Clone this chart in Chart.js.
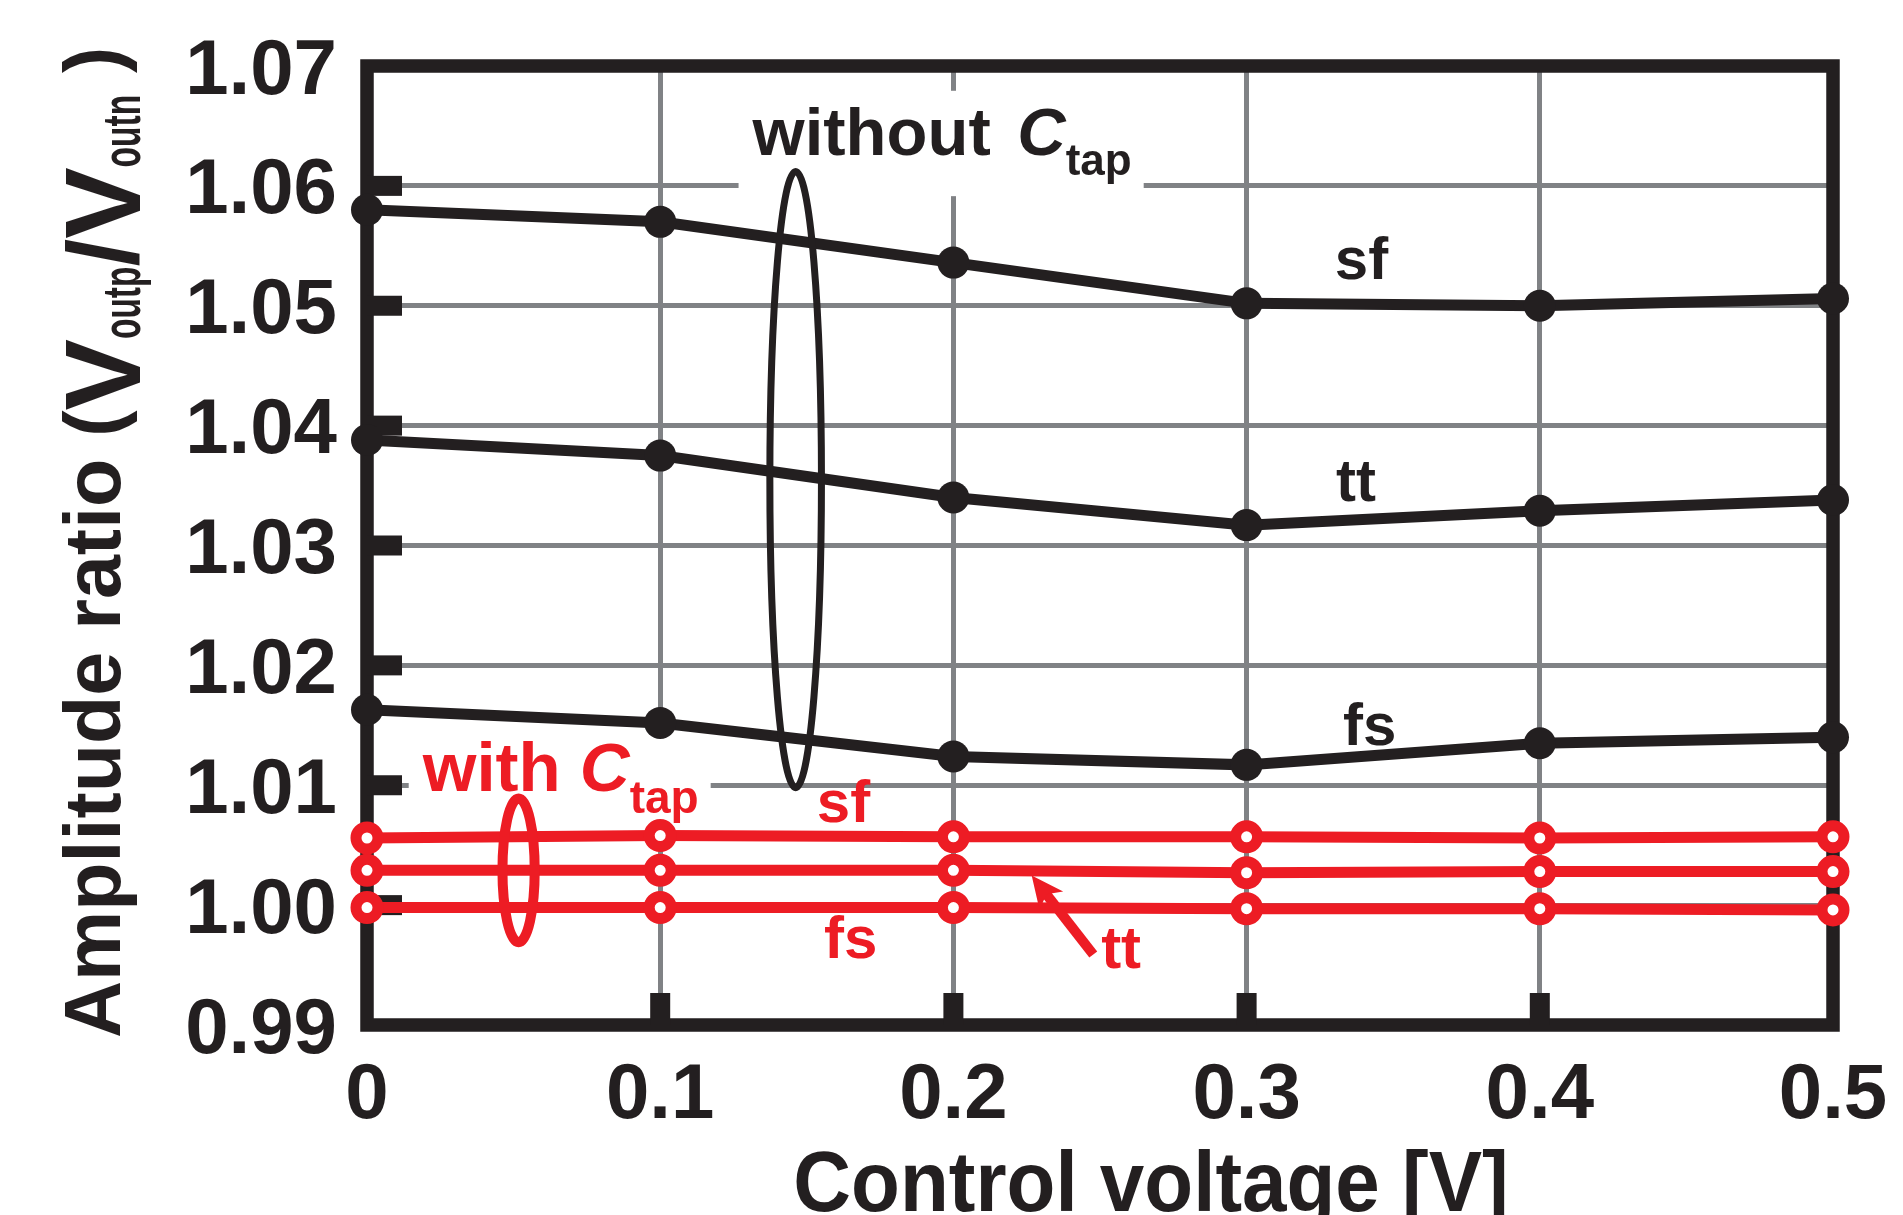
<!DOCTYPE html>
<html>
<head>
<meta charset="utf-8">
<script src="https://cdn.jsdelivr.net/npm/chart.js@4.4.1/dist/chart.umd.min.js"></script>
<style>
  html, body { margin: 0; padding: 0; background: #fff; }
  canvas { display: block; }
</style>
</head>
<body>
<canvas id="myChart" width="1903" height="1215"></canvas>
<script>
// amplitude ratio vs control voltage

const xValues = [0, 0.1, 0.2, 0.3, 0.4, 0.5]
const xTickLabels = ['0', '0.1', '0.2', '0.3', '0.4', '0.5']
const yTickLabels = ['0.99', '1.00', '1.01', '1.02', '1.03', '1.04', '1.05', '1.06', '1.07']

// without C_tap (black)
const withoutSF = [1.0580, 1.0570, 1.0536, 1.0502, 1.0500, 1.0506]
const withoutTT = [1.0388, 1.0375, 1.0340, 1.0317, 1.0329, 1.0338]
const withoutFS = [1.0163, 1.0152, 1.0124, 1.0117, 1.0135, 1.0140]

// with C_tap (red)
const withSF = [1.0056, 1.0058, 1.0057, 1.0057, 1.0056, 1.0057]
const withTT = [1.0029, 1.0029, 1.0029, 1.0027, 1.0028, 1.0028]
const withFS = [0.9998, 0.9998, 0.9998, 0.9997, 0.9997, 0.9996]

const BLACK = '#231f20'
const RED = '#ed1c24'
const GRID = '#808285'
const FONT = '"Liberation Sans", Arial, sans-serif'

const pts = (arr) => arr.map((v, i) => ({ x: xValues[i], y: v }))

const blackSet = (label, arr) => ({
    label,
    data: pts(arr),
    borderColor: BLACK,
    borderWidth: 11,
    pointRadius: 16,
    pointBackgroundColor: BLACK,
    pointBorderWidth: 0,
    tension: 0,
    clip: false,
})

const redSet = (label, arr) => ({
    label,
    data: pts(arr),
    borderColor: RED,
    borderWidth: 11,
    pointRadius: 11,
    pointBorderWidth: 11,
    pointBorderColor: RED,
    pointBackgroundColor: '#fff',
    tension: 0,
    clip: false,
})

// label with italic C and "tap" subscript, on a white box
function ctapLabel(ctx, x, y, word, size, color, gap) {
    const sub = Math.round(size * 0.66)
    ctx.font = `bold ${size}px ${FONT}`
    const w1 = ctx.measureText(word + ' ').width + gap
    ctx.font = `italic bold ${size}px ${FONT}`
    const w2 = ctx.measureText('C').width
    ctx.font = `bold ${sub}px ${FONT}`
    const w3 = ctx.measureText('tap').width
    const drop = size * 0.31
    ctx.fillStyle = '#fff'
    ctx.fillRect(x - 14, y - size * 0.76 - 13, w1 + w2 + w3 + 26, size * 0.76 + drop + sub * 0.22 + 24)
    ctx.fillStyle = color
    ctx.textAlign = 'left'
    ctx.textBaseline = 'alphabetic'
    ctx.font = `bold ${size}px ${FONT}`
    ctx.fillText(word, x, y)
    ctx.font = `italic bold ${size}px ${FONT}`
    ctx.fillText('C', x + w1, y)
    ctx.font = `bold ${sub}px ${FONT}`
    ctx.fillText('tap', x + w1 + w2, y + drop)
}

function tag(ctx, x, y, text, color) {
    ctx.font = `bold 60px ${FONT}`
    ctx.fillStyle = color
    ctx.textAlign = 'center'
    ctx.textBaseline = 'middle'
    ctx.fillText(text, x, y)
}

const decor = {
    id: 'decor',
    beforeDatasetsDraw(chart) {
        const { ctx, chartArea: a, scales: { x, y } } = chart
        ctx.save()
        ctapLabel(ctx, x.getPixelForValue(0.1315), y.getPixelForValue(1.0626), 'without', 67, BLACK, 8)
        ctapLabel(ctx, x.getPixelForValue(0.0190), y.getPixelForValue(1.0095), 'with', 69, RED, 0)

        tag(ctx, x.getPixelForValue(0.3392), y.getPixelForValue(1.0536), 'sf', BLACK)
        tag(ctx, x.getPixelForValue(0.3373), y.getPixelForValue(1.0351), 'tt', BLACK)
        tag(ctx, x.getPixelForValue(0.3420), y.getPixelForValue(1.0147), 'fs', BLACK)
        tag(ctx, x.getPixelForValue(0.1625), y.getPixelForValue(1.0083), 'sf', RED)
        tag(ctx, x.getPixelForValue(0.1650), y.getPixelForValue(0.9970), 'fs', RED)
        tag(ctx, x.getPixelForValue(0.2572), y.getPixelForValue(0.9961), 'tt', RED)

        // frame
        ctx.strokeStyle = BLACK
        ctx.lineWidth = 13.5
        ctx.strokeRect(a.left, a.top, a.right - a.left, a.bottom - a.top)

        // short heavy tick stubs inside the frame
        ctx.fillStyle = BLACK
        for (let i = 1; i < yTickLabels.length - 1; i++) {
            const py = y.getPixelForValue(parseFloat(yTickLabels[i]))
            ctx.fillRect(a.left, py - 10, 35, 20)
        }
        for (let i = 1; i < xValues.length - 1; i++) {
            const px = x.getPixelForValue(xValues[i])
            ctx.fillRect(px - 10, a.bottom - 32, 20, 32)
        }
        ctx.restore()
    },
    afterDatasetsDraw(chart) {
        const { ctx, scales: { x, y } } = chart
        ctx.save()
        // grouping ellipses
        ctx.lineWidth = 7
        ctx.strokeStyle = BLACK
        ctx.beginPath()
        const bx = x.getPixelForValue(0.1462), by = y.getPixelForValue(1.0355)
        ctx.ellipse(bx, by, x.getPixelForValue(0.1462 + 0.0088) - bx, by - y.getPixelForValue(1.0355 + 0.0257), 0, 0, Math.PI * 2)
        ctx.stroke()

        ctx.lineWidth = 10
        ctx.strokeStyle = RED
        ctx.beginPath()
        const rx = x.getPixelForValue(0.0517), ry = y.getPixelForValue(1.0029)
        ctx.ellipse(rx, ry, x.getPixelForValue(0.0517 + 0.0055) - rx, ry - y.getPixelForValue(1.0029 + 0.0060), 0, 0, Math.PI * 2)
        ctx.stroke()

        // arrow to the red tt line
        const tx = x.getPixelForValue(0.2477), ty = y.getPixelForValue(0.99588)
        const hx = x.getPixelForValue(0.2267), hy = y.getPixelForValue(1.00248)
        const ang = Math.atan2(hy - ty, hx - tx)
        const c = Math.cos(ang), s = Math.sin(ang)
        const len = 32, half = 15
        ctx.lineWidth = 10
        ctx.beginPath()
        ctx.moveTo(tx, ty)
        ctx.lineTo(hx - c * len * 0.7, hy - s * len * 0.7)
        ctx.stroke()
        ctx.fillStyle = RED
        ctx.beginPath()
        ctx.moveTo(hx, hy)
        ctx.lineTo(hx - c * len + s * half, hy - s * len - c * half)
        ctx.lineTo(hx - c * len * 0.75, hy - s * len * 0.75)
        ctx.lineTo(hx - c * len - s * half, hy - s * len + c * half)
        ctx.closePath()
        ctx.fill()
        ctx.restore()
    },
    afterDraw(chart) {
        const { ctx, chartArea: a } = chart
        ctx.save()
        ctx.fillStyle = BLACK
        ctx.textAlign = 'left'
        ctx.textBaseline = 'alphabetic'

        // x title
        ctx.font = `bold 86px ${FONT}`
        const xt = 'Control voltage [V]'
        const sx = 0.93
        const xw = ctx.measureText(xt).width * sx
        ctx.save()
        ctx.translate((a.left + a.right) / 2 + 51 - xw / 2, 1211)
        ctx.scale(sx, 1)
        ctx.fillText(xt, 0, 0)
        ctx.restore()

        // y title: [text, font size, baseline x, horizontal squeeze]
        const parts = [
            ['Amplitude ratio ', 79, 120, 1],
            ['(', 79, 120, 1],
            ['V', 107, 140, 1],
            ['outp', 54, 140, 0.62],
            ['/', 100, 138, 1],
            ['V', 107, 140, 1],
            ['outn', 54, 140, 0.62],
            [' )', 79, 120, 1],
        ]
        let along = 0
        parts.forEach(([text, size, base, sq]) => {
            ctx.font = `bold ${size}px ${FONT}`
            const w = ctx.measureText(text).width * sq
            ctx.save()
            ctx.translate(base, 1038 - along)
            ctx.rotate(-Math.PI / 2)
            ctx.scale(sq, 1)
            ctx.fillText(text, 0, 0)
            ctx.restore()
            along += w
        })
        ctx.restore()
    }
}

const ctx = document.getElementById('myChart').getContext('2d')

const data = {
    datasets: [
        blackSet('without sf', withoutSF),
        blackSet('without tt', withoutTT),
        blackSet('without fs', withoutFS),
        redSet('with sf', withSF),
        redSet('with tt', withTT),
        redSet('with fs', withFS),
    ]
}

const config = {
    type: 'line',
    data: data,
    plugins: [decor],
    options: {
        responsive: false,
        animation: false,
        layout: { padding: { left: 0, top: 66, right: 70, bottom: 0 } },
        plugins: {
            legend: { display: false },
            tooltip: { enabled: false },
        },
        scales: {
            x: {
                type: 'linear',
                min: 0,
                max: 0.5,
                afterFit: (s) => { s.height = 190; s.paddingLeft = 0; s.paddingRight = 0 },
                afterBuildTicks: (s) => { s.ticks = xValues.map(v => ({ value: v })) },
                grid: { color: GRID, lineWidth: 5, drawTicks: false },
                border: { display: false },
                ticks: {
                    color: BLACK,
                    padding: 25,
                    maxRotation: 0,
                    font: { family: FONT, weight: 'bold', size: 78 },
                    callback: (v, i) => xTickLabels[i],
                },
            },
            y: {
                type: 'linear',
                min: 0.99,
                max: 1.07,
                afterFit: (s) => { s.width = 367; s.paddingTop = 0; s.paddingBottom = 0 },
                afterBuildTicks: (s) => { s.ticks = yTickLabels.map(t => ({ value: parseFloat(t) })) },
                grid: { color: GRID, lineWidth: 5, drawTicks: false },
                border: { display: false },
                ticks: {
                    color: BLACK,
                    padding: 30,
                    labelOffset: 6,
                    font: { family: FONT, weight: 'bold', size: 78 },
                    callback: (v, i) => yTickLabels[i],
                },
            },
        },
    },
}

const myChart = new Chart(ctx, config)
</script>
</body>
</html>
